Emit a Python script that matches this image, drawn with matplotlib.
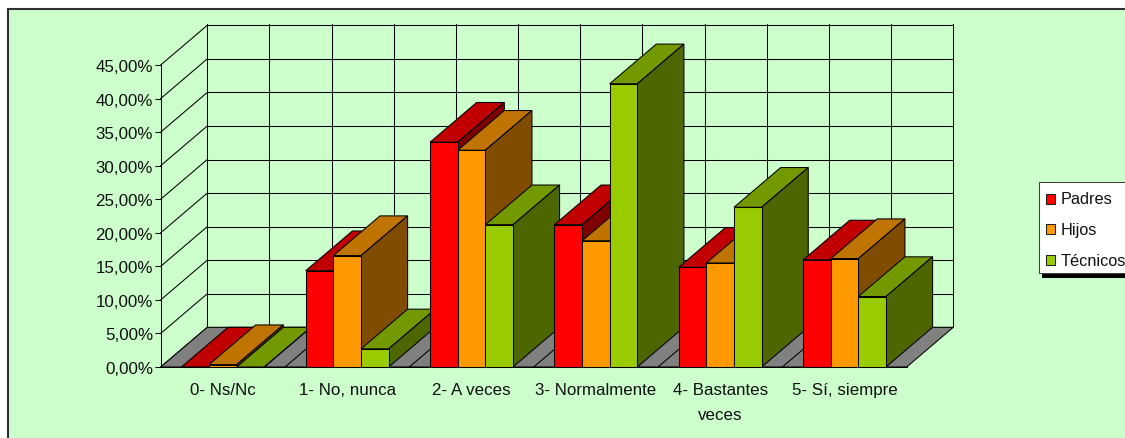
# Grafico de barras 3D (estilo Excel) por categoria
import matplotlib
matplotlib.use('Agg')
import matplotlib.pyplot as plt
from matplotlib.patches import Polygon, Rectangle
from matplotlib.ticker import FuncFormatter

plt.rcParams['font.family'] = ['Liberation Sans', 'DejaVu Sans']

categories = ['0- Ns/Nc', '1- No, nunca', '2- A veces', '3- Normalmente',
              '4- Bastantes\nveces', '5- Sí, siempre']
padres = [0.0, 14.35, 33.5, 21.2, 14.85, 15.95]
hijos = [0.35, 16.6, 32.3, 18.8, 15.5, 16.15]
tecnicos = [0.0, 2.7, 21.2, 42.2, 23.8, 10.5]
y_ticks = [0, 5, 10, 15, 20, 25, 30, 35, 40, 45]

series_names = ['Padres', 'Hijos', 'Técnicos']
# front, top, side colours per series
colors = [('#FF0000', '#C00000', '#800000'),
          ('#FF9900', '#BF7300', '#804D00'),
          ('#99CC00', '#739900', '#4D6600')]

W, H = 1125, 439
LW = 0.75
# depth of the 3D box in data units
DX = 46.6 / 124.33
DY = 39.7 / 6.71


def px(x, y):
    # pixel position (top left origin) to figure fraction
    return x / W, 1 - y / H


def poly(ax, pts, color, z):
    ax.add_patch(Polygon(pts, closed=True, facecolor=color, edgecolor='black',
                         linewidth=LW, joinstyle='miter', clip_on=False, zorder=z))


def line(ax, xs, ys, z=1):
    ax.plot(xs, ys, color='black', linewidth=LW, clip_on=False, zorder=z)


def draw_box(ax):
    # back wall and side wall grid
    for v in y_ticks:
        line(ax, [DX, 6 + DX], [v + DY, v + DY])
        line(ax, [0, DX], [v, v + DY])
    for i in range(13):
        x = i * 0.5 + DX
        line(ax, [x, x], [DY, 45 + DY + 0.2])
    # floor
    poly(ax, [(0, 0), (6, 0), (6 + DX, DY), (DX, DY)], '#808080', 2)
    for i in range(1, 12):
        line(ax, [i * 0.5, i * 0.5 + DX], [0, DY], 3)


def draw_bars(ax):
    z = 4
    bar_w = 2 / 9
    for c in range(len(categories)):
        for s, vals in enumerate([padres, hijos, tecnicos]):
            x0 = c + 1 / 6 + s * bar_w
            x1 = x0 + bar_w
            v = vals[c]
            front, top, side = colors[s]
            poly(ax, [(x0, v), (x1, v), (x1 + DX, v + DY), (x0 + DX, v + DY)], top, z)
            poly(ax, [(x1, 0), (x1 + DX, DY), (x1 + DX, v + DY), (x1, v)], side, z)
            poly(ax, [(x0, 0), (x1, 0), (x1, v), (x0, v)], front, z)
            z += 1


def draw_legend(fig):
    # shadow, box, keys and labels
    for x, y, w, h, fc, ec in [(1042, 187, 100, 91, 'black', 'black'),
                               (1039, 183, 100, 91, 'white', '#404040')]:
        fx, fy = px(x, y + h)
        fig.add_artist(Rectangle((fx, fy), w / W, h / H, transform=fig.transFigure,
                                 facecolor=fc, edgecolor=ec, linewidth=LW))
    for i, name in enumerate(series_names):
        y = 194.5 + i * 30.5
        fx, fy = px(1045.5, y + 10)
        fig.add_artist(Rectangle((fx, fy), 9.5 / W, 10 / H, transform=fig.transFigure,
                                 facecolor=colors[i][0], edgecolor='#202020', linewidth=LW))
        tx, ty = px(1061, y + 5 + i * 0.5)
        fig.text(tx, ty, name, fontsize=11.7, color='#101010', ha='left', va='center')


def plot_data():
    fig = plt.figure(figsize=(W / 100, H / 100), dpi=100, facecolor='white')
    # chart area, below the axes
    fx, fy = px(8, H + 5)
    fig.add_artist(Rectangle((fx, fy), (W + 5) / W, (H - 4.5) / H, transform=fig.transFigure,
                             facecolor='#CCFFCC', edgecolor='#303030', linewidth=1.5,
                             zorder=-1))

    left, bottom = px(160.7, 368)
    ax = fig.add_axes([left, bottom, 746 / W, 302 / H])
    ax.patch.set_visible(False)
    ax.set_xlim(0, 6)
    ax.set_ylim(0, 45)
    for name in ['top', 'right']:
        ax.spines[name].set_visible(False)
    for name in ['left', 'bottom']:
        ax.spines[name].set_linewidth(LW)
        ax.spines[name].set_zorder(2.5)

    ax.set_yticks(y_ticks)
    ax.yaxis.set_major_formatter(FuncFormatter(lambda v, pos: f'{v:.2f}%'.replace('.', ',')))
    ax.tick_params(axis='y', length=4, width=LW, pad=1.5, labelsize=12.2, labelcolor='#101010')
    ax.set_xticks([i + 0.5 for i in range(len(categories))])
    ax.set_xticklabels(categories, linespacing=1.9)
    ax.tick_params(axis='x', length=0, pad=10.5, labelsize=12.2, labelcolor='#101010')

    draw_box(ax)
    draw_bars(ax)
    draw_legend(fig)
    fig.savefig('out.png', dpi=100)


if __name__ == '__main__':
    plot_data()
